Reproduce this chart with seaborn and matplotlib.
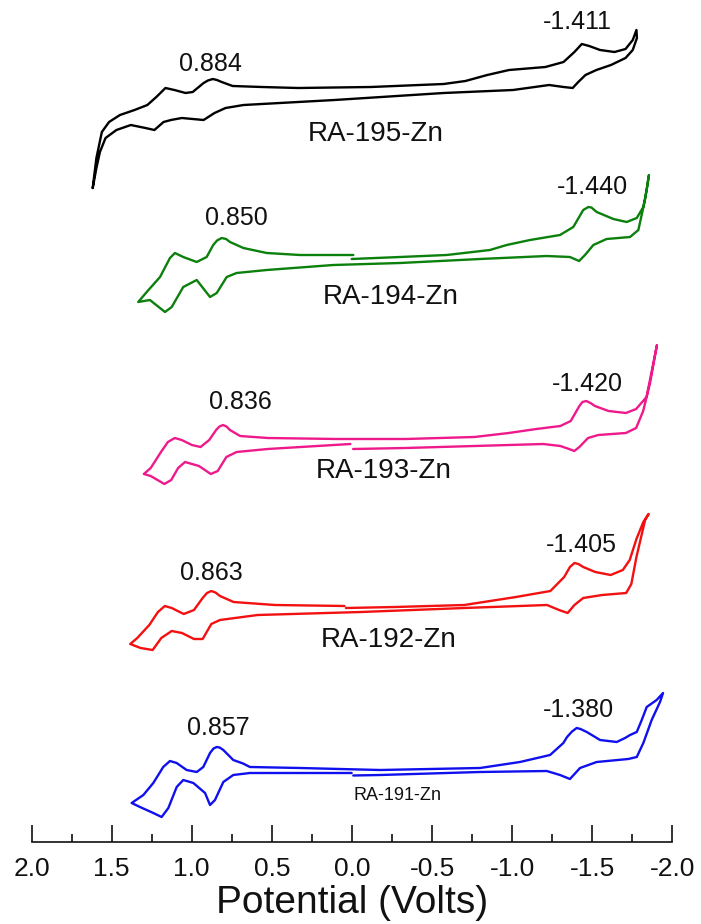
import matplotlib
matplotlib.use("Agg")
import matplotlib.pyplot as plt
from matplotlib.ticker import MultipleLocator, FuncFormatter
import pandas as pd
import seaborn as sns

# Cyclic voltammograms of the Zn complexes (potential in V, current in a.u., stacked)
e_195 = [1.618, 1.595, 1.561, 1.516, 1.448, 1.357, 1.277, 1.221, 1.164, 1.108, 1.039, 0.994, 0.926,
         0.899, 0.869, 0.843, 0.813, 0.745, 0.563, 0.336, -0.118, -0.572, -0.708, -0.844, -0.980,
         -1.207, -1.320, -1.388, -1.434, -1.480, -1.548, -1.638, -1.707, -1.752, -1.775,
         -1.778, -1.752, -1.707, -1.616, -1.525, -1.457, -1.412, -1.377, -1.320, -1.230, -1.005,
         -0.572, 0.109, 0.677, 0.789, 0.858, 0.926, 0.994, 1.062, 1.130, 1.176, 1.233, 1.289, 1.380,
         1.470, 1.538, 1.573, 1.595, 1.618]
i_195 = [65.4, 68.4, 71.0, 72.0, 72.7, 73.2, 73.7, 74.5, 75.4, 75.2, 74.9, 75.0, 75.9,
         76.15, 76.3, 76.2, 76.0, 75.6, 75.5, 75.4, 75.5, 75.8, 76.1, 76.7, 77.2,
         77.5, 78.0, 79.0, 79.8, 79.6, 79.2, 79.0, 79.3, 80.2, 81.2,
         80.4, 79.2, 78.4, 77.7, 77.2, 76.7, 76.0, 75.4, 75.5, 75.7, 75.2,
         74.9, 74.2, 73.7, 73.4, 72.9, 72.2, 72.3, 72.4, 72.2, 72.0, 71.2, 71.4, 71.7,
         71.2, 70.4, 69.0, 67.4, 65.4]

e_194 = [0.002, -0.300, -0.591, -0.861, -0.965, -1.111, -1.298, -1.381, -1.443, -1.475, -1.494,
         -1.527, -1.631, -1.714, -1.777, -1.818, -1.839, -1.853,
         -1.828, -1.787, -1.735, -1.589, -1.506, -1.454, -1.417, -1.360, -1.215, -0.799, -0.300,
         0.117, 0.532, 0.720, 0.782, 0.844, 0.886, 0.969, 1.053, 1.125, 1.167, 1.261, 1.334,
         1.281, 1.198, 1.136, 1.105, 1.053, 0.969, 0.907, 0.866, 0.842, 0.813, 0.786, 0.761,
         0.678, 0.532, 0.325, -0.008]
i_194 = [58.3, 58.5, 58.7, 59.2, 59.7, 60.2, 60.7, 61.5, 63.2, 63.5, 63.45,
         63.0, 62.3, 62.0, 62.4, 63.5, 65.2, 66.7,
         64.2, 61.2, 60.5, 60.3, 59.7, 58.7, 58.1, 58.5, 58.6, 58.3, 57.9,
         57.7, 57.2, 56.9, 56.5, 54.9, 54.5, 56.2, 55.5, 53.5, 53.0, 54.2, 54.0,
         55.0, 56.5, 58.4, 58.9, 58.5, 58.0, 58.5, 59.7, 60.15, 60.4, 60.3, 60.0,
         59.4, 58.9, 58.7, 58.7]

e_193 = [-0.007, -0.334, -0.764, -1.193, -1.300, -1.354, -1.387, -1.419, -1.473, -1.537, -1.709,
         -1.773, -1.817, -1.860, -1.903,
         -1.838, -1.773, -1.709, -1.601, -1.516, -1.488, -1.462, -1.438, -1.419, -1.365, -1.300,
         -1.150, -0.978, -0.764, -0.334, 0.096, 0.526, 0.698, 0.762, 0.783, 0.805, 0.827, 0.848,
         0.891, 0.945, 0.999, 1.063, 1.106, 1.149, 1.192, 1.256, 1.299,
         1.256, 1.171, 1.128, 1.085, 1.042, 0.955, 0.881, 0.838, 0.784, 0.720, 0.526, 0.010]
i_193 = [39.3, 39.4, 39.6, 39.8, 39.6, 39.3, 39.1, 39.5, 40.4, 40.7, 40.9,
         41.4, 43.1, 45.9, 49.7,
         44.5, 43.3, 42.9, 43.1, 43.6, 43.9, 44.1, 44.0, 43.6, 42.1, 41.6,
         41.3, 40.9, 40.5, 40.3, 40.3, 40.4, 40.6, 41.2, 41.55, 41.7, 41.55, 41.2,
         40.2, 39.5, 39.7, 40.2, 40.4, 40.0, 39.0, 37.4, 36.8,
         36.6, 35.8, 36.2, 37.4, 38.0, 37.6, 36.8, 37.1, 38.5, 39.0, 39.3, 39.8]

e_192 = [0.038, -0.271, -0.701, -1.023, -1.238, -1.324, -1.360, -1.388, -1.413, -1.443, -1.518,
         -1.614, -1.690, -1.733, -1.775, -1.818, -1.851,
         -1.829, -1.775, -1.743, -1.711, -1.561, -1.443, -1.388, -1.346, -1.292, -1.217, -0.701,
         -0.056, 0.589, 0.824, 0.878, 0.932, 0.986, 1.061, 1.125, 1.190, 1.244, 1.319, 1.384,
         1.340, 1.265, 1.211, 1.168, 1.125, 1.050, 0.986, 0.932, 0.905, 0.878, 0.852, 0.824,
         0.739, 0.481, 0.047]
i_192 = [23.4, 23.5, 23.7, 24.5, 25.1, 26.5, 27.5, 27.9, 27.8, 27.5, 27.0,
         26.7, 27.2, 28.2, 30.3, 32.0, 32.8,
         32.2, 28.5, 25.8, 24.9, 24.7, 24.4, 23.7, 22.9, 23.2, 23.7, 23.4,
         23.0, 22.7, 22.2, 21.8, 20.3, 20.3, 20.9, 21.1, 20.4, 19.2, 19.4, 19.8,
         20.4, 21.7, 23.0, 23.6, 23.4, 22.8, 23.2, 24.4, 24.9, 25.1, 24.95, 24.6,
         24.0, 23.7, 23.6]

e_191 = [-0.008, -0.175, -0.799, -1.215, -1.298, -1.360, -1.423, -1.527, -1.724, -1.777, -1.818,
         -1.870, -1.922, -1.941,
         -1.901, -1.839, -1.808, -1.777, -1.735, -1.704, -1.652, -1.548, -1.465, -1.426, -1.402,
         -1.373, -1.342, -1.319, -1.236, -1.048, -0.799, -0.175, 0.325, 0.637, 0.680, 0.741,
         0.803, 0.826, 0.844, 0.864, 0.886, 0.928, 0.969, 1.032, 1.094, 1.136, 1.178, 1.240,
         1.302, 1.375,
         1.323, 1.240, 1.188, 1.146, 1.094, 1.053, 0.990, 0.917, 0.886, 0.855, 0.803, 0.741,
         0.637, 0.325, 0.002]
i_191 = [6.65, 6.7, 7.0, 7.1, 6.7, 6.3, 7.4, 8.0, 8.3, 8.5, 9.9,
         12.2, 14.0, 14.9,
         14.2, 13.5, 12.2, 11.0, 10.7, 10.4, 10.0, 10.2, 11.0, 11.3, 11.4,
         11.05, 10.5, 9.9, 8.7, 8.0, 7.4, 7.2, 7.4, 7.5, 7.85, 8.2,
         9.2, 9.45, 9.5, 9.35, 8.9, 7.5, 7.0, 7.2, 7.9, 8.1, 7.5, 5.9,
         4.7, 3.9,
         3.5, 2.9, 2.5, 3.4, 5.5, 6.2, 5.9, 4.9, 3.7, 4.2, 6.0, 6.7,
         6.9, 6.9, 6.9]

samples = ["RA-195-Zn", "RA-194-Zn", "RA-193-Zn", "RA-192-Zn", "RA-191-Zn"]
ox_values = ["0.884", "0.850", "0.836", "0.863", "0.857"]
red_values = ["-1.411", "-1.440", "-1.420", "-1.405", "-1.380"]
colors = ["#000000", "#0c800c", "#ee1a8c", "#f21010", "#1010ee"]

# text anchor points (potential, current) for each trace's annotations
ox_pos = [(0.886, 77.8), (0.724, 62.4), (0.699, 44.0), (0.880, 26.9), (0.836, 11.4)]
red_pos = [(-1.404, 82.0), (-1.501, 65.5), (-1.466, 45.8), (-1.429, 29.7), (-1.410, 13.2)]
name_pos = [(-0.15, 70.8), (-0.243, 54.5), (-0.20, 37.1), (-0.231, 20.2), (-0.281, 4.7)]
name_size = [20, 20, 20, 20, 13]

traces = [(e_195, i_195), (e_194, i_194), (e_193, i_193), (e_192, i_192), (e_191, i_191)]

sns.set_style("ticks")
plt.rcParams["font.family"] = ["Liberation Sans", "DejaVu Sans"]
plt.rcParams["axes.unicode_minus"] = False

fig = plt.figure(figsize=(7.01, 9.24), dpi=100)
ax = fig.add_axes([31.5 / 701, 82 / 924, 641 / 701, 842 / 924])

for k, (e, i) in enumerate(traces):
    df = pd.DataFrame({"Potential": e, "Current": i})
    sns.lineplot(data=df, x="Potential", y="Current", sort=False, estimator=None,
                 color=colors[k], lw=1.7, ax=ax)
    ax.lines[-1].set_solid_joinstyle("round")
    ax.lines[-1].set_solid_capstyle("round")
    ax.text(*ox_pos[k], ox_values[k], ha="center", va="center", fontsize=18, color="#111111")
    ax.text(*red_pos[k], red_values[k], ha="center", va="center", fontsize=18, color="#111111")
    ax.text(*name_pos[k], samples[k], ha="center", va="center", fontsize=name_size[k],
            color="#111111")

ax.set_xlim(2.0, -2.0)
ax.set_ylim(0, 84.2)
ax.xaxis.set_major_locator(MultipleLocator(0.5))
ax.xaxis.set_minor_locator(MultipleLocator(0.25))
ax.xaxis.set_major_formatter(FuncFormatter(lambda v, p: f"{v:.1f}".replace("-0.0", "0.0")))
ax.tick_params(axis="x", which="major", direction="in", length=12, width=1.2,
               labelsize=19, pad=11, color="#111111", labelcolor="#111111")
ax.tick_params(axis="x", which="minor", direction="in", length=6, width=1.2, color="#111111")
ax.set_yticks([])
ax.set_ylabel("")
ax.set_xlabel("Potential (Volts)", fontsize=28, labelpad=3, color="#111111")
for side in ["left", "top", "right"]:
    ax.spines[side].set_visible(False)
ax.spines["bottom"].set_linewidth(1.2)
ax.spines["bottom"].set_color("#111111")
ax.patch.set_alpha(0)

fig.savefig("out.png", dpi=100)
